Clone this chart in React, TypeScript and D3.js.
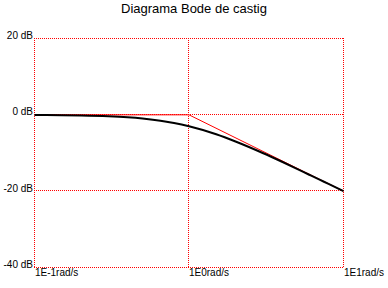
import React from "react";
import * as d3 from "d3";

const title = "Diagrama Bode de castig";
const yTicks = [20, 0, -20, -40];
const yTickLabels = ["20 dB", "0 dB", "-20 dB", "-40 dB"];
const xTicks = [0.1, 1, 10];
const xTickLabels = ["1E-1rad/s", "1E0rad/s", "1E1rad/s"];

// magnitude curve
const freq = [0.1, 0.15, 0.2, 0.3, 0.4, 0.5, 0.6, 0.7, 0.8, 1, 1.5, 2, 3, 4, 5, 6, 7, 8, 10];
const gainDb = [-0.04, -0.1, -0.17, -0.37, -0.64, -0.97, -1.34, -1.73, -2.15, -3.01, -5.1, -6.99, -10.0, -12.3, -14.15, -15.7, -17.0, -18.1, -20.0];

// asymptote
const asymFreq = [0.1, 1, 10];
const asymDb = [0, 0, -20];

const px = (v: number) => Math.floor(v - 0.25) + 0.5;

export default function App() {
  const W = 388, H = 288;
  const x = d3.scaleLog().domain([0.1, 10]).range([34.5, 343.5]);
  const y = d3.scaleLinear().domain([-40, 20]).range([267.5, 38.5]);
  const line = d3
    .line<[number, number]>()
    .x((d) => x(d[0]))
    .y((d) => y(d[1]))
    .curve(d3.curveMonotoneX);
  const curve = line(freq.map((f, i) => [f, gainDb[i]]) as [number, number][]) || "";
  const asym =
    d3
      .line<[number, number]>()
      .x((d) => x(d[0]))
      .y((d) => y(d[1]))(asymFreq.map((f, i) => [f, asymDb[i]]) as [number, number][]) || "";
  const font = "'Liberation Sans', Arial, sans-serif";
  const x0 = Math.floor(x(0.1));
  const x1 = Math.floor(x(10)) + 1;
  const yTop = Math.floor(y(20));
  const yBot = Math.floor(y(-40)) + 1;
  return (
    <svg
      width={W}
      height={H}
      style={{ position: "absolute", left: 0, top: 0, background: "#fff" }}
      fontFamily={font}
    >
      <rect x={0} y={0} width={W} height={H} fill="#fff" />
      <text x={194} y={12.5} textAnchor="middle" fontSize={13} fill="#000">
        {title}
      </text>
      {yTicks.map((t) => (
        <line
          key={"h" + t}
          x1={x0}
          x2={x1}
          y1={px(y(t))}
          y2={px(y(t))}
          stroke="#ff0000"
          strokeWidth={1}
          strokeDasharray="1 1"
        />
      ))}
      {xTicks.map((t) => (
        <line
          key={"v" + t}
          x1={px(x(t))}
          x2={px(x(t))}
          y1={yTop}
          y2={yBot}
          stroke="#ff0000"
          strokeWidth={1}
          strokeDasharray="1 1"
        />
      ))}
      {yTicks.map((t, i) => (
        <text key={"yl" + t} x={33} y={y(t) + 0.5} textAnchor="end" fontSize={10} fill="#000">
          {yTickLabels[i]}
        </text>
      ))}
      {xTicks.map((t, i) => (
        <text key={"xl" + t} x={px(x(t)) + 0.5} y={276} textAnchor="start" fontSize={10} fill="#000">
          {xTickLabels[i]}
        </text>
      ))}
      <path d={asym} fill="none" stroke="#ff0000" strokeWidth={1} />
      <path d={curve} fill="none" stroke="#000" strokeWidth={2} />
    </svg>
  );
}
